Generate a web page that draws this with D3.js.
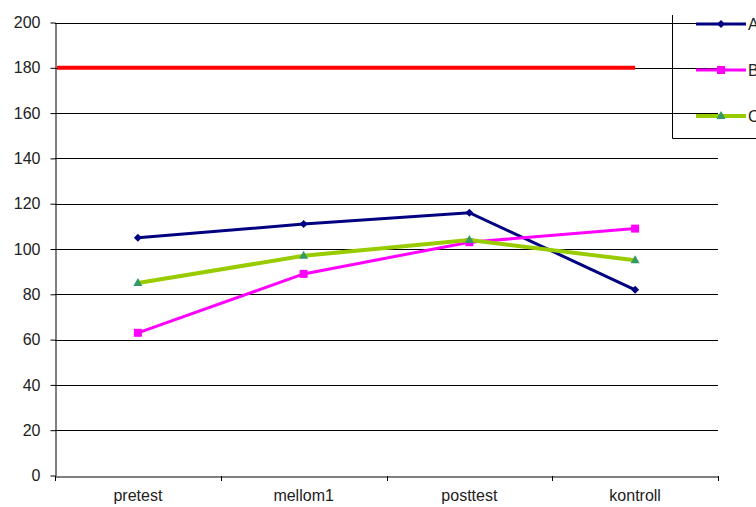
<!DOCTYPE html>
<html>
<head>
<meta charset="utf-8">
<script src="https://cdn.jsdelivr.net/npm/d3@7"></script>
<style>
  html, body { margin: 0; padding: 0; background: #fff; }
  svg { display: block; }
  text { font-family: "Liberation Sans", Arial, sans-serif; }
</style>
</head>
<body>
<svg id="chart" width="756" height="507"></svg>
<script>
// Measurement points and series
const categories = ["pretest", "mellom1", "posttest", "kontroll"];
const seriesNames = ["A", "B", "C"];
const valuesA = [105, 111, 116, 82];
const valuesB = [63, 89, 103, 109];
const valuesC = [85, 97, 104, 95];
const referenceValue = 180;
const yTicks = [0, 20, 40, 60, 80, 100, 120, 140, 160, 180, 200];

const series = [
  { name: seriesNames[0], values: valuesA, color: "#000080", marker: "diamond", markerColor: "#000080" },
  { name: seriesNames[1], values: valuesB, color: "#FF00FF", marker: "square", markerColor: "#FF00FF" },
  { name: seriesNames[2], values: valuesC, color: "#99CC00", marker: "triangle", markerColor: "#339966" }
];

const svg = d3.select("#chart");
const plotLeft = 55, plotRight = 718, plotTop = 22.5, plotBottom = 475.5;
const fontSize = 16;

const x = d3.scaleBand().domain(categories).range([plotLeft, plotRight]);
const y = d3.scaleLinear().domain([0, 200]).range([plotBottom, plotTop]);

// Horizontal gridlines
svg.append("g")
  .selectAll("line")
  .data(yTicks.filter(d => d > 0))
  .join("line")
  .attr("x1", plotLeft).attr("x2", plotRight)
  .attr("y1", d => Math.round(y(d)) + 0.5).attr("y2", d => Math.round(y(d)) + 0.5)
  .attr("stroke", "#000").attr("stroke-width", 1);

// Y axis
const yAxis = svg.append("g")
  .attr("transform", `translate(${plotLeft + 0.5},0)`)
  .call(d3.axisLeft(y).tickValues(yTicks).tickSize(5).tickSizeOuter(0));
yAxis.select(".domain").attr("stroke", "#000");
yAxis.selectAll(".tick line").attr("stroke", "#000");
yAxis.selectAll(".tick text")
  .attr("x", -15)
  .attr("font-size", fontSize)
  .attr("fill", "#222");

// X axis
const xAxis = svg.append("g")
  .attr("transform", `translate(0,${Math.round(plotBottom) + 0.5})`)
  .call(d3.axisBottom(x).tickSize(0).tickSizeOuter(0));
xAxis.select(".domain").attr("stroke", "#000");
xAxis.selectAll(".tick text")
  .attr("y", 13)
  .attr("font-size", fontSize)
  .attr("fill", "#222");
// Category separators
svg.append("g")
  .selectAll("line")
  .data(categories.map(c => x(c)).concat([plotRight]))
  .join("line")
  .attr("x1", d => Math.round(d) + 0.5).attr("x2", d => Math.round(d) + 0.5)
  .attr("y1", Math.round(plotBottom)).attr("y2", Math.round(plotBottom) + 5)
  .attr("stroke", "#000");

// Reference line
svg.append("line")
  .attr("x1", plotLeft + 2).attr("x2", x(categories[3]) + x.bandwidth() / 2)
  .attr("y1", y(referenceValue)).attr("y2", y(referenceValue))
  .attr("stroke", "#FF0000").attr("stroke-width", 4);

const cx = d => x(d) + x.bandwidth() / 2;
const line = d3.line().x((d, i) => cx(categories[i])).y(d => y(d));

function drawMarker(g, type, color, px, py) {
  if (type === "diamond") {
    g.append("path").attr("d", `M${px},${py - 4}L${px + 4},${py}L${px},${py + 4}L${px - 4},${py}Z`).attr("fill", color);
  } else if (type === "square") {
    g.append("rect").attr("x", px - 4).attr("y", py - 4).attr("width", 8).attr("height", 8).attr("fill", color);
  } else {
    g.append("path").attr("d", `M${px},${py - 5}L${px + 4.5},${py + 3}L${px - 4.5},${py + 3}Z`).attr("fill", color);
  }
}

series.forEach(s => {
  const g = svg.append("g");
  g.append("path")
    .datum(s.values)
    .attr("d", line)
    .attr("fill", "none")
    .attr("stroke", s.color)
    .attr("stroke-width", s.name === "C" ? 4 : 3);
  s.values.forEach((v, i) => drawMarker(g, s.marker, s.markerColor, cx(categories[i]), y(v)));
});

// Legend (box runs past the right edge of the canvas)
const legend = svg.append("g");
legend.append("path")
  .attr("d", "M672.5,15V138.5H756")
  .attr("fill", "none").attr("stroke", "#000").attr("stroke-width", 1);
series.forEach((s, i) => {
  const ly = 24 + i * 46;
  legend.append("line")
    .attr("x1", 696).attr("x2", 746).attr("y1", ly).attr("y2", ly)
    .attr("stroke", s.color).attr("stroke-width", s.name === "C" ? 4 : 3);
  drawMarker(legend, s.marker, s.markerColor, 721, ly);
  legend.append("text")
    .attr("x", 748).attr("y", ly + 6)
    .attr("font-size", fontSize).attr("fill", "#222")
    .text(s.name);
});
</script>
</body>
</html>
